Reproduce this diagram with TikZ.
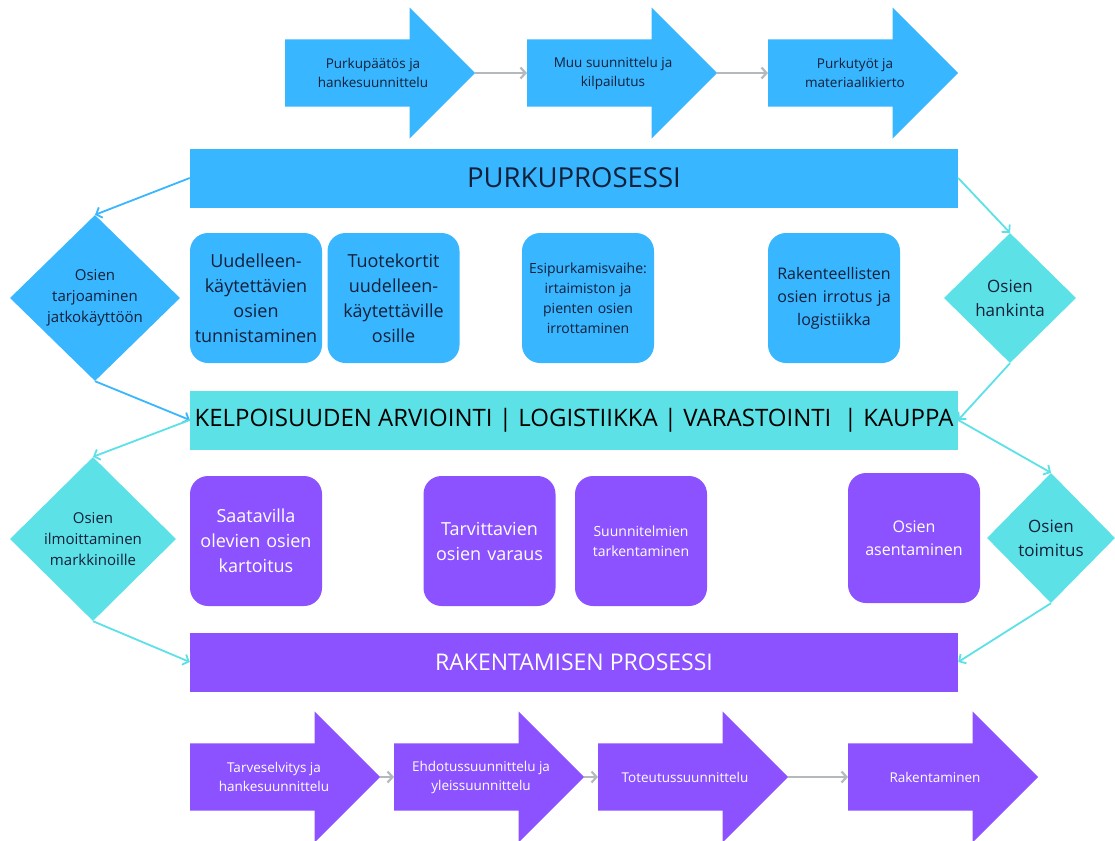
\documentclass[tikz,border=0pt]{standalone}
\usepackage{fontspec}
\setmainfont{Open Sans}
\usetikzlibrary{shapes.geometric,shapes.arrows,arrows.meta}

\definecolor{purkublue}{HTML}{38B6FF}
\definecolor{kelpcyan}{HTML}{5CE1E6}
\definecolor{rakpurple}{HTML}{8C52FF}
\definecolor{flowgray}{HTML}{B4B9BD}
\definecolor{inktext}{HTML}{13203A}

\newcommand{\fsz}[2]{\fontsize{#1}{#2}\selectfont}

\begin{document}
\begin{tikzpicture}[x=1pt, y=-1pt,
    bigarrow/.style={single arrow, single arrow head extend=32pt, single arrow tip angle=90,
      minimum height=190pt, inner xsep=0pt, inner ysep=33.5pt, anchor=tail},
    arrowtext/.style={align=center, font=\fsz{13.5}{19}},
    bar/.style={minimum width=768pt, minimum height=59pt, inner sep=0pt},
    card/.style={rounded corners=18pt, minimum width=132pt, minimum height=130pt,
      text width=128pt, inner sep=0pt, align=center},
    choice/.style={diamond, aspect=1, inner sep=0pt, align=center},
    link/.style={line width=1.8pt, -{Straight Barb[length=5pt,width=11pt]}},
    flow/.style={line width=2.2pt, flowgray, -{Straight Barb[length=5pt,width=11pt]}},
  ]
  \useasboundingbox (0,0) rectangle (1115,840);

  % purkuprosessin vaiheet
  \node[bigarrow, fill=purkublue] (pa1) at (285,73) {};
  \node[bigarrow, fill=purkublue] (pa2) at (527,73) {};
  \node[bigarrow, fill=purkublue] (pa3) at (768,73) {};
  \node[arrowtext, text=inktext] (pt1) at (373,73) {Purkupäätös ja\\hankesuunnittelu};
  \node[arrowtext, text=inktext] (pt2) at (613,73) {Muu suunnittelu ja\\kilpailutus};
  \node[arrowtext, text=inktext] (pt3) at (855,73) {Purkutyöt ja\\materiaalikierto};
  \draw[flow] (pa1.tip) -- (pa2.tail);
  \draw[flow] (pa2.tip) -- (pa3.tail);

  % palkit
  \node[bar, fill=purkublue, text=inktext, font=\fsz{27.5}{30}] (purku) at (574,178) {PURKUPROSESSI};
  \node[bar, fill=kelpcyan, text=black, font=\fsz{24}{26}] (kelp) at (574,420)
    {KELPOISUUDEN ARVIOINTI | LOGISTIIKKA | VARASTOINTI \ | KAUPPA};
  \node[bar, fill=rakpurple, text=white, font=\fsz{23}{26}] (rak) at (574,662) {RAKENTAMISEN PROSESSI};

  % purun tehtävät
  \node[card, fill=purkublue, text=inktext, font=\fsz{18}{25}] (b1) at (256,298)
    {Uudelleen-\\käytettävien\\osien\\tunnistaminen};
  \node[card, fill=purkublue, text=inktext, font=\fsz{18}{25}] (b2) at (393.5,298)
    {Tuotekortit\\uudelleen-\\käytettäville\\osille};
  \node[card, fill=purkublue, text=inktext, font=\fsz{14}{20}] (b3) at (588,298)
    {Esipurkamisvaihe:\\irtaimiston ja\\pienten osien\\irrottaminen};
  \node[card, fill=purkublue, text=inktext, font=\fsz{16}{23}] (b4) at (834,298)
    {Rakenteellisten\\osien irrotus ja\\logistiikka};

  % rakentamisen tehtävät
  \node[card, fill=rakpurple, text=white, font=\fsz{18}{25}] (c1) at (256,541)
    {Saatavilla\\olevien osien\\kartoitus};
  \node[card, fill=rakpurple, text=white, font=\fsz{18}{25}] (c2) at (489.5,541)
    {Tarvittavien\\osien varaus};
  \node[card, fill=rakpurple, text=white, font=\fsz{14}{20}] (c3) at (641,541)
    {Suunnitelmien\\tarkentaminen};
  \node[card, fill=rakpurple, text=white, font=\fsz{16}{23}] (c4) at (914,538)
    {Osien\\asentaminen};

  % vinoneliöt
  \node[choice, fill=purkublue, text=inktext, font=\fsz{15}{21},
    minimum width=170pt, minimum height=166pt] (tarjoa) at (95,298)
    {Osien\\tarjoaminen\\jatkokäyttöön};
  \node[choice, fill=kelpcyan, text=inktext, font=\fsz{17}{24},
    minimum width=132pt, minimum height=130pt] (hankinta) at (1010,298)
    {Osien\\hankinta};
  \node[choice, fill=kelpcyan, text=inktext, font=\fsz{15}{21},
    minimum width=166pt, minimum height=164pt] (ilmoita) at (93,539)
    {Osien\\ilmoittaminen\\markkinoille};
  \node[choice, fill=kelpcyan, text=inktext, font=\fsz{17}{24},
    minimum width=128pt, minimum height=130pt] (toimitus) at (1051,538)
    {Osien\\toimitus};

  \draw[link, purkublue] (purku.west) -- (tarjoa.north);
  \draw[link, purkublue] (tarjoa.south) -- (kelp.west);
  \draw[link, kelpcyan] (purku.east) -- (hankinta.north);
  \draw[link, kelpcyan] (hankinta.south) -- (kelp.east);
  \draw[link, kelpcyan] (kelp.west) -- (ilmoita.north);
  \draw[link, kelpcyan] (ilmoita.south) -- (rak.west);
  \draw[link, kelpcyan] (kelp.east) -- (toimitus.north);
  \draw[link, kelpcyan] (toimitus.south) -- (rak.east);

  % rakentamisen vaiheet
  \node[bigarrow, fill=rakpurple] (ra1) at (190,777) {};
  \node[bigarrow, fill=rakpurple] (ra2) at (394,777) {};
  \node[bigarrow, fill=rakpurple] (ra3) at (598,777) {};
  \node[bigarrow, fill=rakpurple] (ra4) at (848,777) {};
  \node[arrowtext, text=white] (rt1) at (274,777) {Tarveselvitys ja\\hankesuunnittelu};
  \node[arrowtext, text=white] (rt2) at (481,777) {Ehdotussuunnittelu ja\\yleissuunnittelu};
  \node[arrowtext, text=white] (rt3) at (685,777) {Toteutussuunnittelu};
  \node[arrowtext, text=white] (rt4) at (935,777) {Rakentaminen};
  \draw[flow] (ra1.tip) -- (ra2.tail);
  \draw[flow] (ra2.tip) -- (ra3.tail);
  \draw[flow] (ra3.tip) -- (ra4.tail);
\end{tikzpicture}
\end{document}
